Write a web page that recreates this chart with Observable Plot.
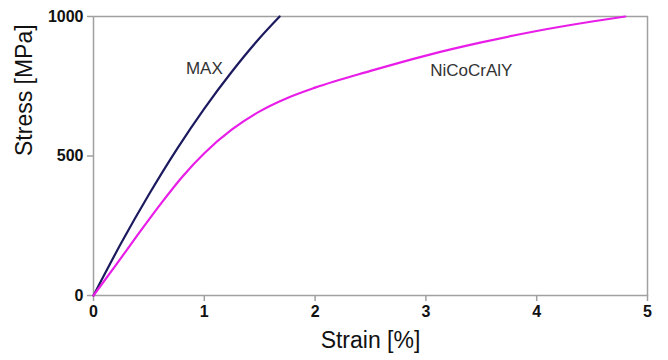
<!DOCTYPE html>
<html>
<head>
<meta charset="utf-8">
<script src="https://cdn.jsdelivr.net/npm/d3@7"></script>
<script src="https://cdn.jsdelivr.net/npm/@observablehq/plot@0.6"></script>
<style>
  html, body { margin: 0; padding: 0; background: #fff; }
  #chart svg { font-family: "Liberation Sans", Arial, sans-serif; }
</style>
</head>
<body>
<div id="chart"></div>
<script>
// MAX phase curve (strain %, stress MPa)
const maxStrain = [0, 0.25, 0.5, 0.75, 1.0, 1.25, 1.5, 1.68];
const maxStress = [0, 188, 362, 523, 670, 803, 923, 1000];

// NiCoCrAlY curve
const nicoStrain = [0, 0.2, 0.4, 0.6, 0.8, 1.0, 1.25, 1.5, 1.75, 2.0, 2.5, 3.0, 3.5, 4.0, 4.5, 4.8];
const nicoStress = [0, 108, 218, 325, 425, 510, 595, 660, 708, 745, 805, 860, 907, 948, 982, 1000];

const xTicks = [0, 1, 2, 3, 4, 5];
const yTicks = [0, 500, 1000];

const seriesLabels = [
  {name: "MAX", x: 1.0, y: 812},
  {name: "NiCoCrAlY", x: 3.41, y: 805}
];

const maxData = maxStrain.map((x, i) => ({x, y: maxStress[i]}));
const nicoData = nicoStrain.map((x, i) => ({x, y: nicoStress[i]}));

const chart = Plot.plot({
  width: 668,
  height: 360,
  marginLeft: 93,
  marginRight: 21,
  marginTop: 16,
  marginBottom: 65,
  style: {fontFamily: "Liberation Sans, Arial, sans-serif", background: "#fff"},
  x: {domain: [0, 5]},
  y: {domain: [0, 1000]},
  marks: [
    Plot.frame({stroke: "#a0a0a0", strokeWidth: 1.5}),
    Plot.axisX({ticks: xTicks, tickFormat: d => String(d), tickSize: 6, tickPadding: 4, stroke: "#a0a0a0", strokeWidth: 1.5, fill: "#111", fontSize: 16, fontWeight: "bold", label: null}),
    Plot.axisY({ticks: yTicks, tickFormat: d => String(d), tickSize: 6, tickPadding: 4, stroke: "#a0a0a0", strokeWidth: 1.5, fill: "#111", fontSize: 16, fontWeight: "bold", label: null}),
    Plot.line(maxData, {x: "x", y: "y", stroke: "#1c1a5e", strokeWidth: 2.2, curve: "monotone-x"}),
    Plot.line(nicoData, {x: "x", y: "y", stroke: "#e81ee8", strokeWidth: 2.2, curve: "monotone-x"}),
    Plot.text(seriesLabels, {x: "x", y: "y", text: "name", fontSize: 17, fill: "#333"}),
    Plot.text(["Strain [%]"], {frameAnchor: "bottom", dy: 52, fontSize: 23, fill: "#111"}),
    Plot.text(["Stress [MPa]"], {frameAnchor: "left", rotate: -90, dx: -69, fontSize: 23, fill: "#111"})
  ]
});
document.getElementById("chart").appendChild(chart);
</script>
</body>
</html>
